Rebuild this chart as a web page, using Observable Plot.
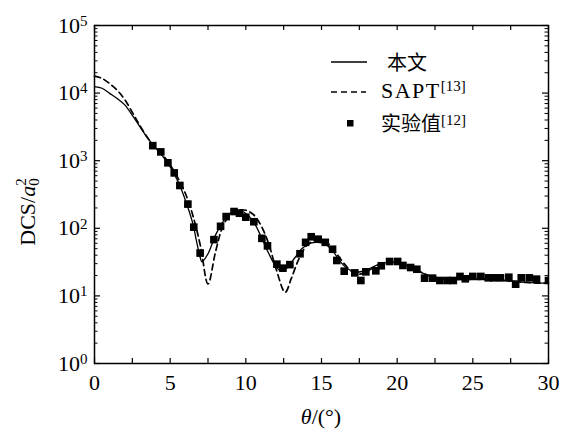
<!DOCTYPE html>
<html>
<head>
<meta charset="utf-8">
<script src="https://cdn.jsdelivr.net/npm/d3@7"></script>
<script src="https://cdn.jsdelivr.net/npm/@observablehq/plot@0.6"></script>
<style>
  body { margin: 0; background: #fff; }
  #chart { width: 564px; height: 432px; }
  #chart svg { display: block; }
</style>
</head>
<body>
<div id="chart"></div>
<script>
// Differential cross section vs. scattering angle

// Present calculation (solid line)
const thetaCalc = [0, 0.5, 1.0, 1.5, 2.0, 2.5, 3.0, 3.5, 4.0, 4.5, 5.0, 5.5, 6.0, 6.5, 6.75, 7.0, 7.1, 7.5, 8.0, 8.5, 9.0, 9.5, 10.0, 10.5, 11.0, 11.5, 12.0, 12.35, 12.75, 13.25, 13.75, 14.25, 14.75, 15.25, 15.75, 16.25, 16.75, 17.35, 18.0, 18.75, 19.5, 20.25, 21.0, 21.75, 22.5, 23.5, 24.5, 25.5, 26.5, 27.5, 28.5, 29.25, 30];
const dcsCalc = [12500, 11800, 9900, 8300, 6700, 4700, 3200, 2170, 1580, 1170, 810, 500, 263, 117, 63, 36, 32, 42, 80, 126, 170, 186, 166, 126, 76, 43, 27, 23.2, 26.3, 37, 51, 60, 62, 58, 46, 32, 25, 22.4, 24.5, 29, 31.6, 30, 26.3, 21.4, 18.6, 17.4, 17.8, 17.8, 17.4, 16.6, 15.8, 15.5, 15.5];

// SAPT potential (dashed line)
const thetaSapt = [0, 0.5, 1.0, 1.5, 2.0, 2.5, 3.0, 3.5, 4.0, 4.5, 5.0, 5.5, 6.0, 6.5, 7.0, 7.5, 8.0, 8.5, 9.0, 9.5, 10.0, 10.5, 11.0, 11.5, 12.0, 12.6, 13.0, 13.5, 14.0, 14.5, 15.0, 15.5, 16.0, 16.5, 17.0, 17.5, 18.0, 18.75, 19.5, 20.25, 21.0, 21.75, 22.5, 23.5, 24.5, 25.5, 26.5, 27.5, 28.5, 29.25, 30];
const dcsSapt = [17800, 16500, 13800, 11000, 8000, 5200, 3300, 2200, 1550, 1220, 870, 560, 330, 155, 55, 15, 45, 110, 160, 185, 185, 160, 110, 60, 25, 11.3, 18, 35, 55, 65, 66, 58, 42, 30, 23, 21, 23, 28.5, 31.5, 30, 26, 21.5, 18.8, 17.6, 17.6, 17.6, 17.2, 16.5, 15.8, 15.5, 15.4];

// Experiment (squares)
const thetaExp = [3.85, 4.38, 4.85, 5.27, 5.64, 6.17, 6.56, 6.98, 7.89, 8.33, 8.70, 9.22, 9.58, 10.0, 10.53, 11.06, 11.43, 12.05, 12.45, 12.91, 13.58, 13.95, 14.32, 14.78, 15.25, 15.73, 16.01, 16.50, 17.2, 17.6, 17.93, 18.59, 18.95, 19.50, 20.03, 20.38, 20.89, 21.30, 21.81, 22.34, 22.82, 23.31, 23.71, 24.15, 24.50, 25.0, 25.53, 26.02, 26.39, 26.83, 27.38, 27.83, 28.20, 28.73, 29.21, 30.0];
const dcsExp = [1670, 1350, 930, 660, 430, 228, 104, 43, 68, 107, 149, 177, 167, 146, 125, 71, 55, 29.5, 25.7, 29, 42, 62, 75, 69, 62, 49, 33.4, 23.2, 21.9, 16.9, 22.7, 23.5, 27.9, 32.3, 32.3, 28.2, 26.3, 24.8, 18.3, 18.3, 16.9, 16.9, 16.9, 19.4, 17.9, 19.4, 19.4, 18.5, 18.5, 18.5, 18.9, 14.9, 18.5, 18.5, 17.7, 16.9];

// Axis ticks and legend text
const xTickLabels = [0, 5, 10, 15, 20, 25, 30];
const yDecades = [1, 10, 100, 1000, 10000, 100000];
const legendNames = ["本文", "SAPT", "实验值"];
const legendRefs = ["", "[13]", "[12]"];

const W = 564, H = 432;
const mL = 94, mR = 16, mT = 25, mB = 69;
const innerW = W - mL - mR, innerH = H - mT - mB;

const xMinor = d3.range(0, 30.001, 2.5);
const yMinor = yDecades.slice(0, -1).flatMap(d => d3.range(2, 10).map(k => k * d));

const calc = thetaCalc.map((t, i) => ({t, v: dcsCalc[i]}));
const sapt = thetaSapt.map((t, i) => ({t, v: dcsSapt[i]}));
const exp = thetaExp.map((t, i) => ({t, v: dcsExp[i]}));

const serif = "'Liberation Serif', serif";
const cjk = "'Noto Sans CJK SC', sans-serif";

const plot = Plot.plot({
  width: W,
  height: H,
  marginLeft: mL,
  marginRight: mR,
  marginTop: mT,
  marginBottom: mB,
  style: {fontSize: "22px", color: "#000", background: "#fff"},
  x: {domain: [0, 30]},
  y: {type: "log", domain: [1, 1e5]},
  marks: [
    Plot.axisX({ticks: xTickLabels, tickSize: 0, tickPadding: 11, label: null, tickFormat: d => String(d)}),
    Plot.axisY({ticks: yDecades, tickSize: 0, tickPadding: 7, label: null, tickFormat: d => "10^" + Math.round(Math.log10(d))}),
    // inward ticks on all four sides
    Plot.ruleX(xMinor, {x: d => d, insetTop: innerH - 5, stroke: "#000", strokeWidth: 1.2}),
    Plot.ruleX(xMinor, {x: d => d, insetBottom: innerH - 5, stroke: "#000", strokeWidth: 1.2}),
    Plot.ruleY(yDecades, {y: d => d, insetRight: innerW - 6, stroke: "#000", strokeWidth: 1.2}),
    Plot.ruleY(yDecades, {y: d => d, insetLeft: innerW - 6, stroke: "#000", strokeWidth: 1.2}),
    Plot.ruleY(yMinor, {y: d => d, insetRight: innerW - 3.5, stroke: "#000", strokeWidth: 1}),
    Plot.ruleY(yMinor, {y: d => d, insetLeft: innerW - 3.5, stroke: "#000", strokeWidth: 1}),
    Plot.line(sapt, {x: "t", y: "v", curve: "catmull-rom", stroke: "#000", strokeWidth: 1.7, strokeDasharray: "6,4"}),
    Plot.line(calc, {x: "t", y: "v", curve: "catmull-rom", stroke: "#000", strokeWidth: 1.3}),
    Plot.dot(exp, {x: "t", y: "v", symbol: "square", r: 4.3, fill: "#000", stroke: "none", clip: true}),
    Plot.frame({stroke: "#000", strokeWidth: 1.5})
  ]
});

const svg = d3.select(plot);

// y tick labels as powers of ten
svg.selectAll('g[aria-label="y-axis tick label"] text').each(function () {
  const t = d3.select(this);
  const [base, e] = t.text().split("^");
  t.text(null);
  t.append("tspan").text(base);
  t.append("tspan").attr("dy", "-0.45em").attr("font-size", "15px").text(e);
});

// y axis title: DCS/a0^2
const yt = svg.append("text")
  .attr("transform", "translate(35,212) rotate(-90)")
  .attr("text-anchor", "middle")
  .attr("font-size", 22)
  .attr("fill", "#000");
yt.append("tspan").text("DCS/");
yt.append("tspan").attr("font-style", "italic").text("a");
yt.append("tspan").attr("font-size", 15).attr("dy", 4).text("0");
yt.append("tspan").attr("font-size", 15).attr("dx", -7.5).attr("dy", -13).text("2");

// x axis title: θ/(°)
const xt = svg.append("text")
  .attr("x", mL + innerW / 2)
  .attr("y", 424)
  .attr("text-anchor", "middle")
  .attr("font-size", 22)
  .attr("fill", "#000");
xt.append("tspan").attr("font-style", "italic").text("θ");
xt.append("tspan").text("/(°)");

// legend
const lg = svg.append("g").attr("fill", "#000").attr("text-anchor", "start");
lg.append("line").attr("x1", 331).attr("x2", 367).attr("y1", 62).attr("y2", 62)
  .attr("stroke", "#000").attr("stroke-width", 1.3);
lg.append("line").attr("x1", 331).attr("x2", 366).attr("y1", 92).attr("y2", 92)
  .attr("stroke", "#000").attr("stroke-width", 1.7).attr("stroke-dasharray", "6,4");
lg.append("rect").attr("x", 347).attr("y", 120).attr("width", 6.5).attr("height", 6.5);

lg.append("text").attr("class", "cjk").attr("x", 387).attr("y", 69.5)
  .attr("font-size", 20).text(legendNames[0]);

const l2 = lg.append("text").attr("x", 381).attr("y", 98).attr("font-size", 22);
l2.append("tspan").attr("letter-spacing", "1.5px").text(legendNames[1]);
l2.append("tspan").attr("font-size", 15).attr("dy", -7).text(legendRefs[1]);

const l3 = lg.append("text").attr("x", 381).attr("y", 130.5).attr("font-size", 20);
l3.append("tspan").attr("class", "cjk").text(legendNames[2]);
l3.append("tspan").attr("font-size", 15).attr("dy", -6).text(legendRefs[2]);

// typefaces: serif everywhere, CJK face for the Chinese labels
svg.attr("font-family", serif);
svg.selectAll("text, tspan").style("font-family", serif);
svg.selectAll(".cjk").style("font-family", cjk);

document.getElementById("chart").appendChild(plot);
</script>
</body>
</html>
